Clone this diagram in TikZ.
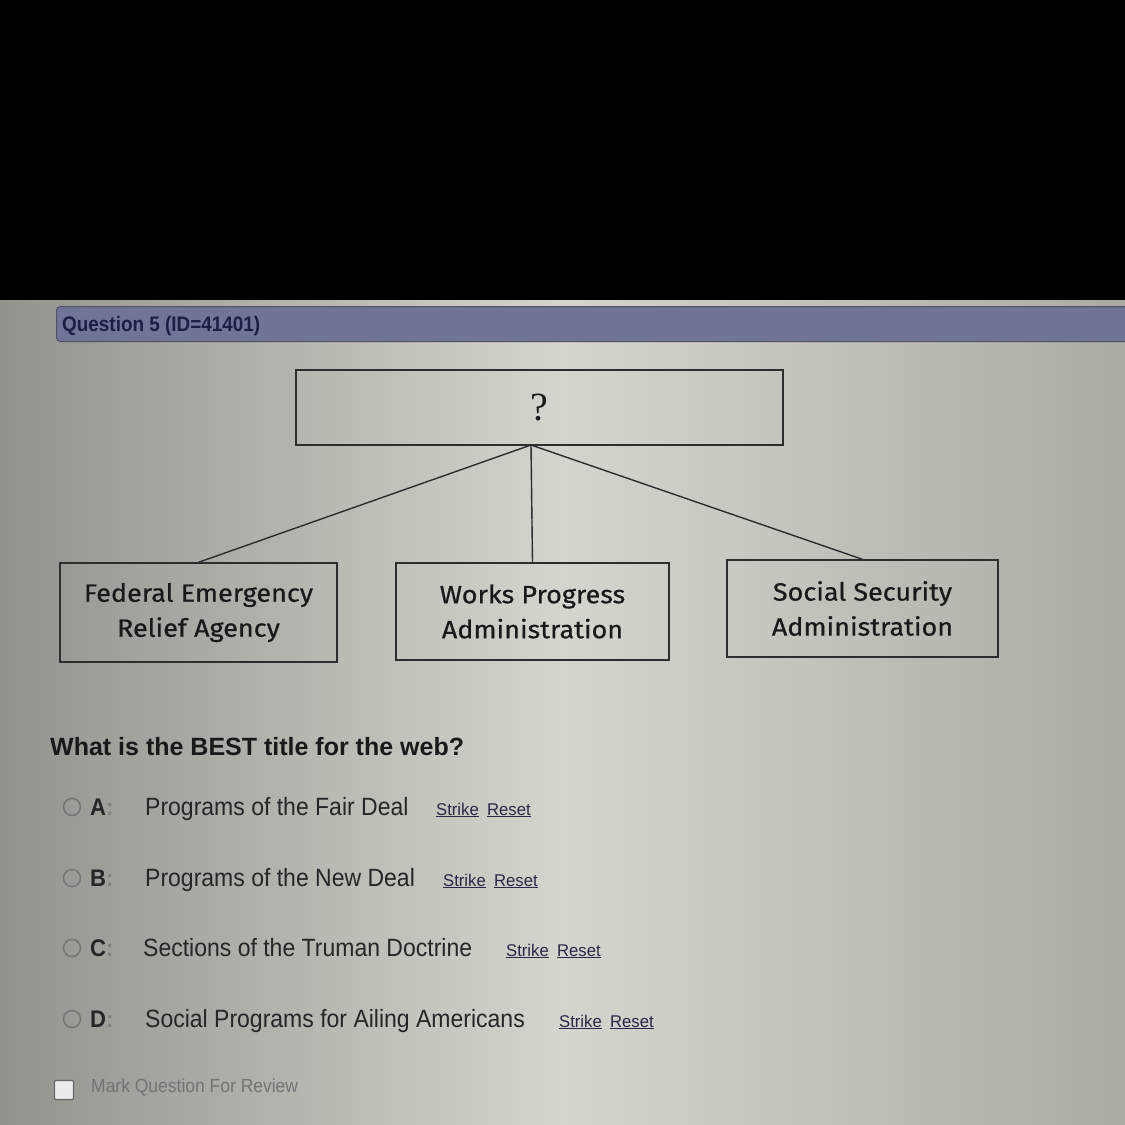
\documentclass[tikz,border=0pt]{standalone}
\usepackage{fontspec}
\setmainfont{Liberation Sans}
\newfontfamily\optfont[FakeStretch=0.92]{Liberation Sans}
\newfontfamily\qfont{Liberation Sans}
\newfontfamily\titlefont[FakeStretch=0.9]{Liberation Sans}
\newfontfamily\linkfont[FakeStretch=0.98]{Liberation Sans}
\newfontfamily\boxfont[FakeStretch=1.08,FakeBold=0.6]{Fira Sans}
\newfontfamily\qmarkfont{Liberation Serif}
\definecolor{barblue}{RGB}{112,117,152}
\definecolor{bartext}{RGB}{28,30,70}
\definecolor{linkcol}{RGB}{40,40,75}
\definecolor{scrL}{RGB}{145,147,141}
\definecolor{scrM}{RGB}{212,213,204}
\definecolor{scrR}{RGB}{170,172,164}
\definecolor{edge}{RGB}{45,45,45}
\tikzset{
  txt/.style={inner sep=0pt, anchor=base west},
  webbox/.style={draw=edge, line width=1.4pt, rectangle, inner sep=0pt, align=center,
    font=\boxfont\fontsize{25}{35}\selectfont, text=black!90},
  conn/.style={draw=edge, line width=1.4pt},
  opt/.style={txt, font=\optfont\fontsize{25}{30}\selectfont, text=black!85},
  letter/.style={txt, font=\optfont\bfseries\fontsize{24}{30}\selectfont, text=black!85},
  link/.style={txt, font=\linkfont\fontsize{17}{20}\selectfont, text=linkcol},
  radio/.style={circle, draw=black!55, line width=1.4pt, minimum size=17pt, inner sep=0pt},
}
\begin{document}
\begin{tikzpicture}[x=1pt,y=-1pt]
\useasboundingbox (0,0) rectangle (1125,1125);
% background
\fill[black] (0,0) rectangle (1125,300);
\shade[left color=scrL, right color=scrR, middle color=scrM] (0,300) rectangle (1125,1125);
% title bar
\node[rectangle, rounded corners=4pt, fill=barblue, draw=barblue!70!black, line width=1pt,
  minimum width=1080pt, minimum height=35pt, anchor=north west, inner sep=0pt] (bar) at (56,306) {};
\node[txt, font=\titlefont\bfseries\fontsize{21}{24}\selectfont, text=bartext] (qtitle) at (62,331) {Question 5 (ID=41401)};
% web
\node[webbox, minimum width=487pt, minimum height=75pt, font=\qmarkfont\fontsize{40}{40}\selectfont] (top) at (539.5,407.5) {?};
\coordinate (apex) at (531,445);
\node[webbox, minimum width=277pt, minimum height=99pt] (fera) at (198.5,612.5) {Federal Emergency\\Relief Agency};
\node[webbox, minimum width=273pt, minimum height=97pt] (wpa) at (532.5,611.5) {Works Progress\\Administration};
\node[webbox, minimum width=271pt, minimum height=97pt] (ssa) at (862.5,608.5) {Social Security\\Administration};
\draw[conn] (apex) -- (fera.north);
\draw[conn] (apex) -- (wpa.north);
\draw[conn] (apex) -- (ssa.north);
% question
\node[txt, font=\qfont\bfseries\fontsize{25}{30}\selectfont, text=black!90] (question) at (50,755) {What is the BEST title for the web?};
% options
\node[radio] (ra) at (72,807) {};
\node[letter] (la) at (90,815) {A\textcolor{black!50}{:}};
\node[opt] (ta) at (145,815) {Programs of the Fair Deal};
\node[link] (sa) at (436,815) {\underline{Strike}};
\node[link] (ea) at (487,815) {\underline{Reset}};

\node[radio] (rb) at (72,878) {};
\node[letter] (lb) at (90,886) {B\textcolor{black!50}{:}};
\node[opt] (tb) at (145,886) {Programs of the New Deal};
\node[link] (sb) at (443,886) {\underline{Strike}};
\node[link] (eb) at (494,886) {\underline{Reset}};

\node[radio] (rc) at (72,948) {};
\node[letter] (lc) at (90,956) {C\textcolor{black!50}{:}};
\node[opt] (tc) at (143,956) {Sections of the Truman Doctrine};
\node[link] (sc) at (506,956) {\underline{Strike}};
\node[link] (ec) at (557,956) {\underline{Reset}};

\node[radio] (rd) at (72,1019) {};
\node[letter] (ld) at (90,1027) {D\textcolor{black!50}{:}};
\node[opt] (td) at (145,1027) {Social Programs for Ailing Americans};
\node[link] (sd) at (559,1027) {\underline{Strike}};
\node[link] (ed) at (610,1027) {\underline{Reset}};
% review
\node[rectangle, draw=black!60, fill=white!85!gray, line width=1.2pt, minimum size=19pt, inner sep=0pt, rounded corners=1pt] (cb) at (64,1090) {};
\node[txt, font=\optfont\fontsize{19}{22}\selectfont, text=black!55] (review) at (91,1092) {Mark Question For Review};
\end{tikzpicture}
\end{document}
